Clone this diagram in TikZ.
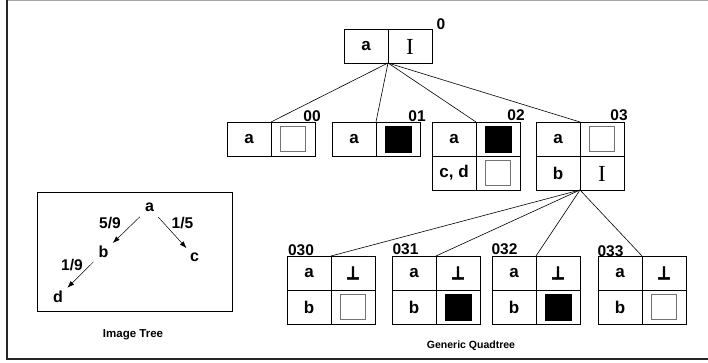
\documentclass[tikz,border=0pt]{standalone}
\usepackage{fontspec}
\setmainfont{Liberation Sans}
\newfontfamily\serifI{Liberation Serif}
\newfontfamily\tackfont{DejaVu Sans}[BoldFeatures={FakeBold=3}]
\usetikzlibrary{arrows.meta}
\begin{document}
\begin{tikzpicture}[x=1pt,y=-1pt,
  cell/.style={draw, line width=0.8pt, minimum width=44pt, minimum height=34pt, inner sep=0pt, outer sep=0pt, font=\fontsize{17}{17}\selectfont\bfseries},
  wsq/.style={draw=black!55, line width=1pt, fill=white, minimum size=25pt, inner sep=0pt},
  bsq/.style={draw=black, fill=black, minimum size=26pt, inner sep=0pt},
  ibar/.style={font=\serifI\fontsize{23}{23}\selectfont, inner sep=0pt},
  tack/.style={font=\tackfont\fontsize{18}{18}\selectfont\bfseries, inner sep=0pt},
  lbl/.style={font=\fontsize{15.5}{15.5}\selectfont\bfseries, inner sep=0pt},
  tnode/.style={font=\fontsize{16}{16}\selectfont\bfseries, inner sep=3.5pt},
  elbl/.style={font=\fontsize{15.5}{15.5}\selectfont\bfseries, inner sep=0pt},
  captxt/.style={font=\fontsize{11.5}{11.5}\selectfont\bfseries, inner sep=0pt, anchor=base},
  conn/.style={line width=0.6pt},
  arr/.style={line width=0.5pt, -{Latex[length=7pt,width=5pt]}, shorten <=2pt, shorten >=1pt}
]
\useasboundingbox (0,0) rectangle (708,363);
% outer frame
\draw[black!35, line width=1pt] (7,0.5) -- (708,0.5);
\draw[black!85, line width=1.6pt] (7,0) -- (7,359) -- (708,359);

% root
\node[cell] (rl) at (366,46) {a};
\node[cell] (rr) at (410,46) {};
\node[ibar] (ri) at (410,47) {I};
\node[lbl] (l0) at (441,24) {0};

% level 1
\node[cell] (n00l) at (249,139) {a};
\node[cell] (n00r) at (293,139) {};
\node[wsq] (s00) at (n00r) {};
\node[lbl] (l00) at (312,116) {00};

\node[cell] (n01l) at (354,139) {a};
\node[cell] (n01r) at (398,139) {};
\node[bsq] (s01) at (n01r) {};
\node[lbl] (l01) at (417,116) {01};

\node[cell] (n02l) at (454,139) {a};
\node[cell] (n02r) at (498,139) {};
\node[bsq] (s02) at (n02r) {};
\node[cell] (n02bl) at (454,173) {c, d};
\node[cell] (n02br) at (498,173) {};
\node[wsq] (s02b) at (n02br) {};
\node[lbl] (l02) at (516,115) {02};

\node[cell] (n03l) at (558,139) {a};
\node[cell] (n03r) at (602,139) {};
\node[wsq] (s03) at (n03r) {};
\node[cell] (n03bl) at (558,173) {b};
\node[cell] (n03br) at (602,173) {};
\node[ibar] (i03) at (602,174) {I};
\node[lbl] (l03) at (619,115) {03};

% level 2
\node[cell] (n030l) at (309,273) {a};
\node[cell] (n030r) at (353,273) {};
\node[tack] (t030) at (n030r) {\scalebox{0.85}[1]{⊥}};
\node[cell] (n030bl) at (309,307) {b};
\node[cell] (n030br) at (353,307) {};
\node[wsq] (s030) at (n030br) {};
\node[lbl] (l030) at (301,250.5) {030};

\node[cell] (n031l) at (414,273) {a};
\node[cell] (n031r) at (458,273) {};
\node[tack] (t031) at (n031r) {\scalebox{0.85}[1]{⊥}};
\node[cell] (n031bl) at (414,307) {b};
\node[cell] (n031br) at (458,307) {};
\node[bsq] (s031) at (n031br) {};
\node[lbl] (l031) at (405.5,249.5) {031};

\node[cell] (n032l) at (514,273) {a};
\node[cell] (n032r) at (558,273) {};
\node[tack] (t032) at (n032r) {\scalebox{0.85}[1]{⊥}};
\node[cell] (n032bl) at (514,307) {b};
\node[cell] (n032br) at (558,307) {};
\node[bsq] (s032) at (n032br) {};
\node[lbl] (l032) at (504.5,249.5) {032};

\node[cell] (n033l) at (620,273) {a};
\node[cell] (n033r) at (664,273) {};
\node[tack] (t033) at (n033r) {\scalebox{0.85}[1]{⊥}};
\node[cell] (n033bl) at (620,307) {b};
\node[cell] (n033br) at (664,307) {};
\node[wsq] (s033) at (n033br) {};
\node[lbl] (l033) at (610.5,251.5) {033};

% connectors
\foreach \c in {n00l,n01l,n02l,n03l}
  \draw[conn] (rl.south east) -- (\c.north east);
\foreach \c in {n030l,n031l,n032l,n033l}
  \draw[conn] (n03bl.south east) -- (\c.north east);

% image tree
\node[draw, line width=0.8pt, minimum width=195pt, minimum height=119pt, inner sep=0pt] (itbox) at (134.5,251.5) {};
\node[tnode] (a) at (149.5,207.5) {a};
\node[tnode] (b) at (103.5,252) {b};
\node[tnode] (c) at (194.5,257) {c};
\node[tnode] (d) at (58,297) {d};
\draw[arr] (a) -- (b);
\draw[arr] (a) -- (c);
\draw[arr] (b) -- (d);
\node[elbl] (e59) at (110,223) {5/9};
\node[elbl] (e15) at (182.5,223) {1/5};
\node[elbl] (e19) at (72,265) {1/9};
\node[captxt] (cap1) at (133,337) {Image Tree};
\node[captxt, font=\fontsize{10.5}{10.5}\selectfont\bfseries] (cap2) at (471,348) {Generic Quadtree};
\end{tikzpicture}
\end{document}
